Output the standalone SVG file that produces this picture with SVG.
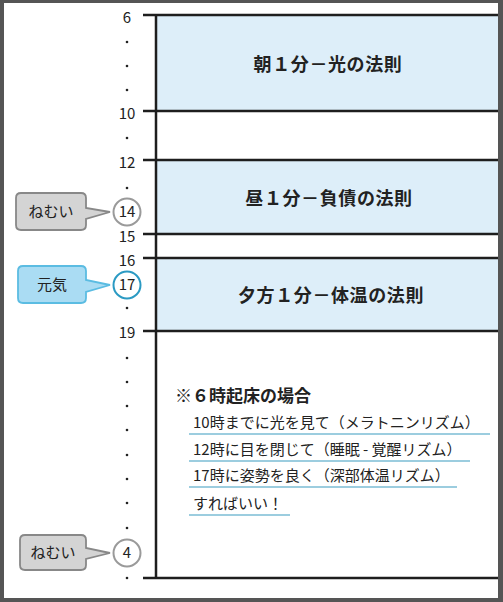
<svg xmlns="http://www.w3.org/2000/svg" width="503" height="602" viewBox="0 0 503 602">
<style>
text{font-family:"Noto Sans CJK JP","Noto Sans",sans-serif;fill:#222}
.tick{font-size:15px;text-anchor:middle}
.title{font-size:18px;font-weight:bold;text-anchor:middle;letter-spacing:0.6px}
.body{font-size:15px}
.hl{stroke:#1e1e1e;stroke-width:2.5}
.band{fill:#ddeef9}
.dot{fill:#222}
.ul{stroke:#3a9cbf;stroke-width:1.2}
.cg{fill:#d4d4d4;stroke:#888;stroke-width:1.8}
.cb{fill:#aadcf3;stroke:#5bbce2;stroke-width:1.8}
.circ{fill:#fff;stroke:#9a9a9a;stroke-width:2}
.circb{fill:#fff;stroke:#2b9ac3;stroke-width:2}
.ct{font-size:15px;text-anchor:middle}
</style>
<rect x="0" y="0" width="503" height="602" fill="#555"/>
<rect x="4" y="3" width="494" height="595" fill="#fff"/>

<g id="bands">
<rect class="band" x="156" y="15" width="342" height="96"/>
<rect class="band" x="156" y="160" width="342" height="74"/>
<rect class="band" x="156" y="258" width="342" height="73"/>
</g>

<g id="connectors">
<line class="hl" x1="156" y1="15" x2="156" y2="578"/>
<line class="hl" x1="143" y1="15" x2="498" y2="15"/>
<line class="hl" x1="143" y1="111" x2="498" y2="111"/>
<line class="hl" x1="143" y1="160" x2="498" y2="160"/>
<line class="hl" x1="143" y1="234" x2="498" y2="234"/>
<line class="hl" x1="143" y1="258" x2="498" y2="258"/>
<line class="hl" x1="143" y1="331" x2="498" y2="331"/>
<line class="hl" x1="143" y1="578" x2="498" y2="578"/>
</g>

<g id="axis-labels">
<text class="tick" x="127" y="23">6</text>
<text class="tick" x="127" y="119">10</text>
<text class="tick" x="127" y="168">12</text>
<text class="tick" x="127" y="242">15</text>
<text class="tick" x="127" y="266">16</text>
<text class="tick" x="127" y="338">19</text>
<g id="dots">
<circle class="dot" cx="127" cy="42" r="1.3"/>
<circle class="dot" cx="127" cy="66" r="1.3"/>
<circle class="dot" cx="127" cy="90" r="1.3"/>
<circle class="dot" cx="127" cy="138" r="1.3"/>
<circle class="dot" cx="127" cy="188" r="1.3"/>
<circle class="dot" cx="127" cy="308" r="1.3"/>
<circle class="dot" cx="127" cy="358" r="1.3"/>
<circle class="dot" cx="127" cy="382" r="1.3"/>
<circle class="dot" cx="127" cy="406" r="1.3"/>
<circle class="dot" cx="127" cy="430" r="1.3"/>
<circle class="dot" cx="127" cy="455" r="1.3"/>
<circle class="dot" cx="127" cy="479" r="1.3"/>
<circle class="dot" cx="127" cy="503" r="1.3"/>
<circle class="dot" cx="127" cy="528" r="1.3"/>
<circle class="dot" cx="127" cy="578" r="1.3"/>
</g>
</g>

<g id="morning"><text class="title" x="328" y="71">朝１分－光の法則</text></g>
<g id="noon"><text class="title" x="329" y="205">昼１分－負債の法則</text></g>
<g id="evening"><text class="title" x="331" y="302">夕方１分－体温の法則</text></g>

<g id="hour14">
<path class="cg" d="M21,193 H81 Q86,193 86,198 V208 L110,212 L86,219 V225 Q86,230 81,230 H21 Q16,230 16,225 V198 Q16,193 21,193 Z"/>
<text class="ct" x="51" y="217">ねむい</text>
<circle class="circ" cx="127" cy="212" r="13.5"/>
<text class="ct" x="127" y="217">14</text>
</g>

<g id="hour17">
<path class="cb" d="M23,266 H81 Q86,266 86,271 V280 L110,285 L86,292 V298 Q86,303 81,303 H23 Q18,303 18,298 V271 Q18,266 23,266 Z"/>
<text class="ct" x="52" y="290">元気</text>
<circle class="circb" cx="127" cy="285" r="13.5"/>
<text class="ct" x="127" y="290">17</text>
</g>

<g id="hour4">
<path class="cg" d="M25,535 H81 Q86,535 86,540 V548 L110,553 L86,559 V565 Q86,570 81,570 H25 Q20,570 20,565 V540 Q20,535 25,535 Z"/>
<text class="ct" x="53" y="558">ねむい</text>
<circle class="circ" cx="127" cy="553" r="13.5"/>
<text class="ct" x="127" y="558">4</text>
</g>

<g id="note">
<text x="175" y="402" style="font-size:17px;font-weight:bold">※６時起床の場合</text>
<text class="body" x="193" y="428">10時までに光を見て（メラトニンリズム）</text>
<line class="ul" x1="189" y1="434" x2="490" y2="434"/>
<text class="body" x="193" y="455">12時に目を閉じて（睡眠 - 覚醒リズム）</text>
<line class="ul" x1="189" y1="461" x2="470" y2="461"/>
<text class="body" x="193" y="481">17時に姿勢を良く（深部体温リズム）</text>
<line class="ul" x1="189" y1="487" x2="457" y2="487"/>
<text class="body" x="193" y="509">すればいい！</text>
<line class="ul" x1="189" y1="515" x2="290" y2="515"/>
</g>
</svg>
